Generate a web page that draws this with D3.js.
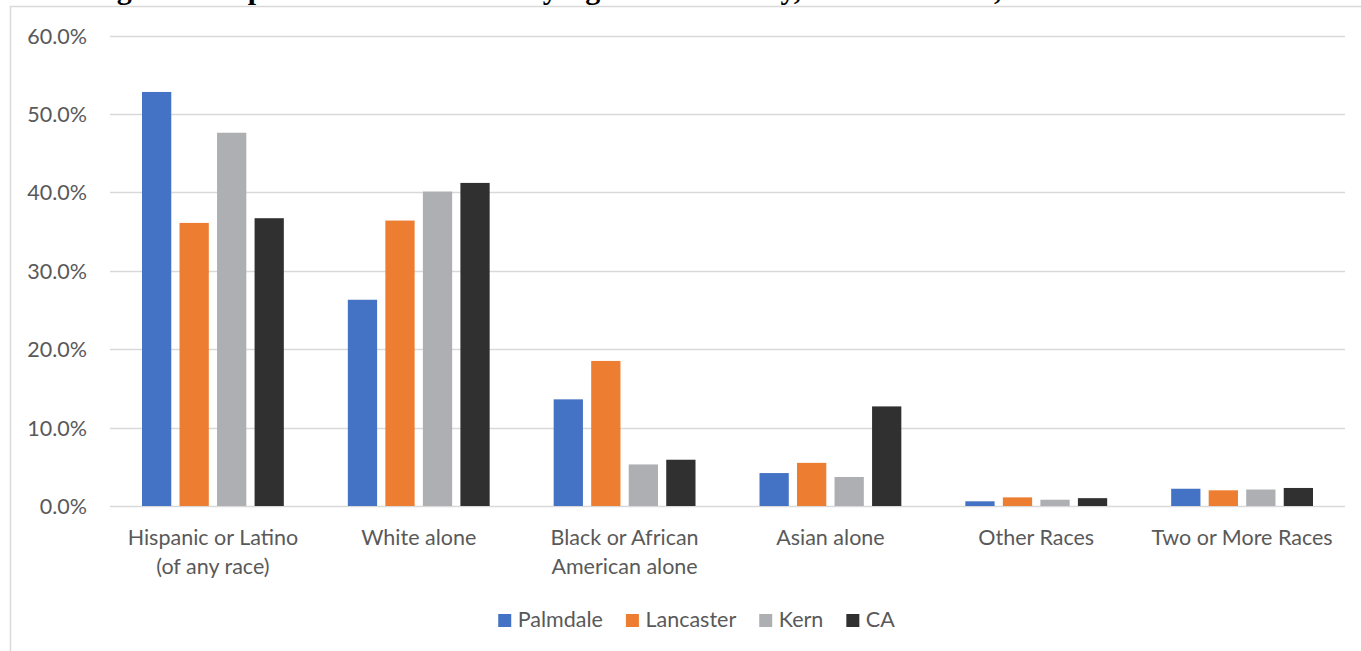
<!DOCTYPE html>
<html>
<head>
<meta charset="utf-8">
<script src="https://cdn.jsdelivr.net/npm/d3@7"></script>
<style>
  html, body { margin: 0; padding: 0; background: #fff; overflow: hidden; }
  svg { display: block; }
</style>
</head>
<body>
<svg id="chart" width="1361" height="651"></svg>
<script>
// Share of population by race / ethnicity for four areas
const categories = [
  ["Hispanic or Latino", "(of any race)"],
  ["White alone"],
  ["Black or African", "American alone"],
  ["Asian alone"],
  ["Other Races"],
  ["Two or More Races"]
];
const seriesNames = ["Palmdale", "Lancaster", "Kern", "CA"];
const palmdale  = [52.8, 26.3, 13.6, 4.2, 0.6, 2.2];
const lancaster = [36.1, 36.4, 18.5, 5.5, 1.1, 2.0];
const kern      = [47.6, 40.1, 5.3, 3.7, 0.8, 2.1];
const ca        = [36.7, 41.2, 5.9, 12.7, 1.0, 2.3];
const yTicks = [0, 10, 20, 30, 40, 50, 60];
const titleText = "Figure 3: Population Distribution by Age and Ethnicity, Selected Areas, 2019";

const seriesValues = [palmdale, lancaster, kern, ca];
const colors = ["#4472C4", "#ED7D31", "#AEAFB2", "#313031"];

const svg = d3.select("#chart");
const font = "Lato, 'Open Sans', sans-serif";
const fontSize = 21.5;
const textColor = "#595959";

// Caption above the frame (its upper part runs off the top edge)
svg.append("text")
  .attr("x", 90).attr("y", -1)
  .attr("font-family", "'Liberation Serif', serif")
  .attr("font-weight", "bold")
  .attr("font-size", 30)
  .attr("fill", "#000")
  .text(titleText);

// Chart frame
svg.append("path")
  .attr("d", "M10.5,1000 V6.5 H1400")
  .attr("fill", "none")
  .attr("stroke", "#d9d9d9")
  .attr("stroke-width", 1.5);

const plot = { left: 110, right: 1345, top: 35.5, bottom: 506 };

const x0 = d3.scaleBand()
  .domain(d3.range(categories.length))
  .range([plot.left, plot.right])
  .paddingInner(0).paddingOuter(0);

const groupInset = 32;
const x1 = d3.scaleBand()
  .domain(seriesNames)
  .range([groupInset, x0.bandwidth() - groupInset])
  .paddingInner(0.22).paddingOuter(0);

const y = d3.scaleLinear().domain([0, 60]).range([plot.bottom, plot.top]);

// Gridlines
svg.append("g")
  .selectAll("line")
  .data(yTicks)
  .join("line")
  .attr("x1", plot.left).attr("x2", plot.right)
  .attr("y1", d => Math.round(y(d)) + 0.5)
  .attr("y2", d => Math.round(y(d)) + 0.5)
  .attr("stroke", "#d9d9d9")
  .attr("stroke-width", 1.3);

// Y axis labels
const yAxis = d3.axisLeft(y).tickValues(yTicks).tickSize(0).tickPadding(0)
  .tickFormat(d => d3.format(".1f")(d) + "%");
const yG = svg.append("g").attr("transform", `translate(87,0)`).call(yAxis);
yG.select(".domain").remove();
yG.selectAll("text")
  .attr("font-family", font).attr("font-size", fontSize).attr("fill", textColor)
  .attr("dy", "0.35em");

// Bars
const groups = svg.append("g")
  .selectAll("g")
  .data(categories.map((c, i) => i))
  .join("g")
  .attr("transform", i => `translate(${x0(i)},0)`);

groups.selectAll("rect")
  .data(i => seriesNames.map((s, k) => ({ s, k, v: seriesValues[k][i] })))
  .join("rect")
  .attr("x", d => x1(d.s))
  .attr("width", x1.bandwidth())
  .attr("y", d => y(d.v))
  .attr("height", d => y(0) - y(d.v))
  .attr("fill", d => colors[d.k]);

// Category labels
const catG = svg.append("g");
categories.forEach((lines, i) => {
  const t = catG.append("text")
    .attr("x", x0(i) + x0.bandwidth() / 2)
    .attr("y", 545)
    .attr("text-anchor", "middle")
    .attr("font-family", font).attr("font-size", fontSize).attr("fill", textColor);
  lines.forEach((ln, j) => {
    t.append("tspan").attr("x", x0(i) + x0.bandwidth() / 2)
      .attr("dy", j === 0 ? 0 : 29).text(ln);
  });
});

// Legend
const legend = svg.append("g");
let cx = 0;
seriesNames.forEach((name, k) => {
  const g = legend.append("g");
  g.append("rect").attr("x", 0).attr("y", -13).attr("width", 13).attr("height", 13)
    .attr("fill", colors[k]);
  const t = g.append("text").attr("x", 19.5).attr("y", 0)
    .attr("font-family", font).attr("font-size", fontSize).attr("fill", textColor)
    .text(name);
  const w = 19.5 + t.node().getComputedTextLength();
  g.attr("transform", `translate(${cx},0)`);
  cx += w + 23;
});
const legendWidth = cx - 23;
legend.attr("transform", `translate(${696.5 - legendWidth / 2},627)`);
</script>
</body>
</html>
